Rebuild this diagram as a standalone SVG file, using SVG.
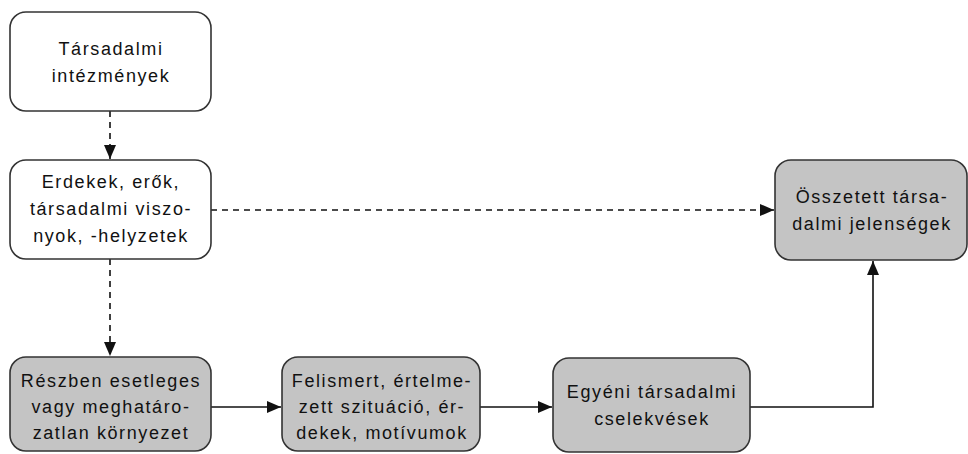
<svg xmlns="http://www.w3.org/2000/svg" width="968" height="454" viewBox="0 0 968 454">
<style>
.box{stroke:#333;stroke-width:1.6}
.w{fill:#fff}
.g{fill:#c4c4c4}
text{font-family:"Liberation Sans",Arial,sans-serif;font-size:18px;letter-spacing:1.6px;fill:#111;text-anchor:middle}
.c{fill:none;stroke:#111;stroke-width:1.6}
.d{stroke-dasharray:6,5}
</style>
<defs>
<marker id="ah" markerWidth="14" markerHeight="12" refX="14" refY="6" orient="auto" markerUnits="userSpaceOnUse">
<path d="M0,0 L14,6 L0,12 Z" fill="#111"/>
</marker>
</defs>
<rect width="968" height="454" fill="#fff"/>
<g id="connectors">
<path class="c d" d="M110,111 V159" marker-end="url(#ah)"/>
<path class="c d" d="M211,210 H774" marker-end="url(#ah)"/>
<path class="c d" d="M110,259 V356" marker-end="url(#ah)"/>
<path class="c" d="M211,407 H281" marker-end="url(#ah)"/>
<path class="c" d="M480,407 H552" marker-end="url(#ah)"/>
<path class="c" d="M750,407 H873 V261" marker-end="url(#ah)"/>
</g>
<g id="n1">
<rect class="box w" x="10" y="12" width="201" height="99" rx="16"/>
<text x="111" y="55">Társadalmi</text>
<text x="111" y="82">intézmények</text>
</g>
<g id="n2">
<rect class="box w" x="10" y="160" width="201" height="99" rx="16"/>
<text x="111" y="188">Erdekek, erők,</text>
<text x="111" y="215">társadalmi viszo-</text>
<text x="111" y="242">nyok, -helyzetek</text>
</g>
<g id="n3">
<rect class="box g" x="10" y="357" width="201" height="94" rx="16"/>
<text x="111" y="387">Részben esetleges</text>
<text x="111" y="413">vagy meghatáro-</text>
<text x="111" y="439">zatlan környezet</text>
</g>
<g id="n4">
<rect class="box g" x="282" y="357" width="198" height="94" rx="16"/>
<text x="382" y="387">Felismert, értelme-</text>
<text x="382" y="413">zett szituáció, ér-</text>
<text x="382" y="439">dekek, motívumok</text>
</g>
<g id="n5">
<rect class="box g" x="553" y="358" width="197" height="94" rx="16"/>
<text x="652" y="398">Egyéni társadalmi</text>
<text x="652" y="425">cselekvések</text>
</g>
<g id="n6">
<rect class="box g" x="775" y="160" width="192" height="100" rx="16"/>
<text x="872" y="203">Összetett társa-</text>
<text x="872" y="230">dalmi jelenségek</text>
</g>
</svg>
